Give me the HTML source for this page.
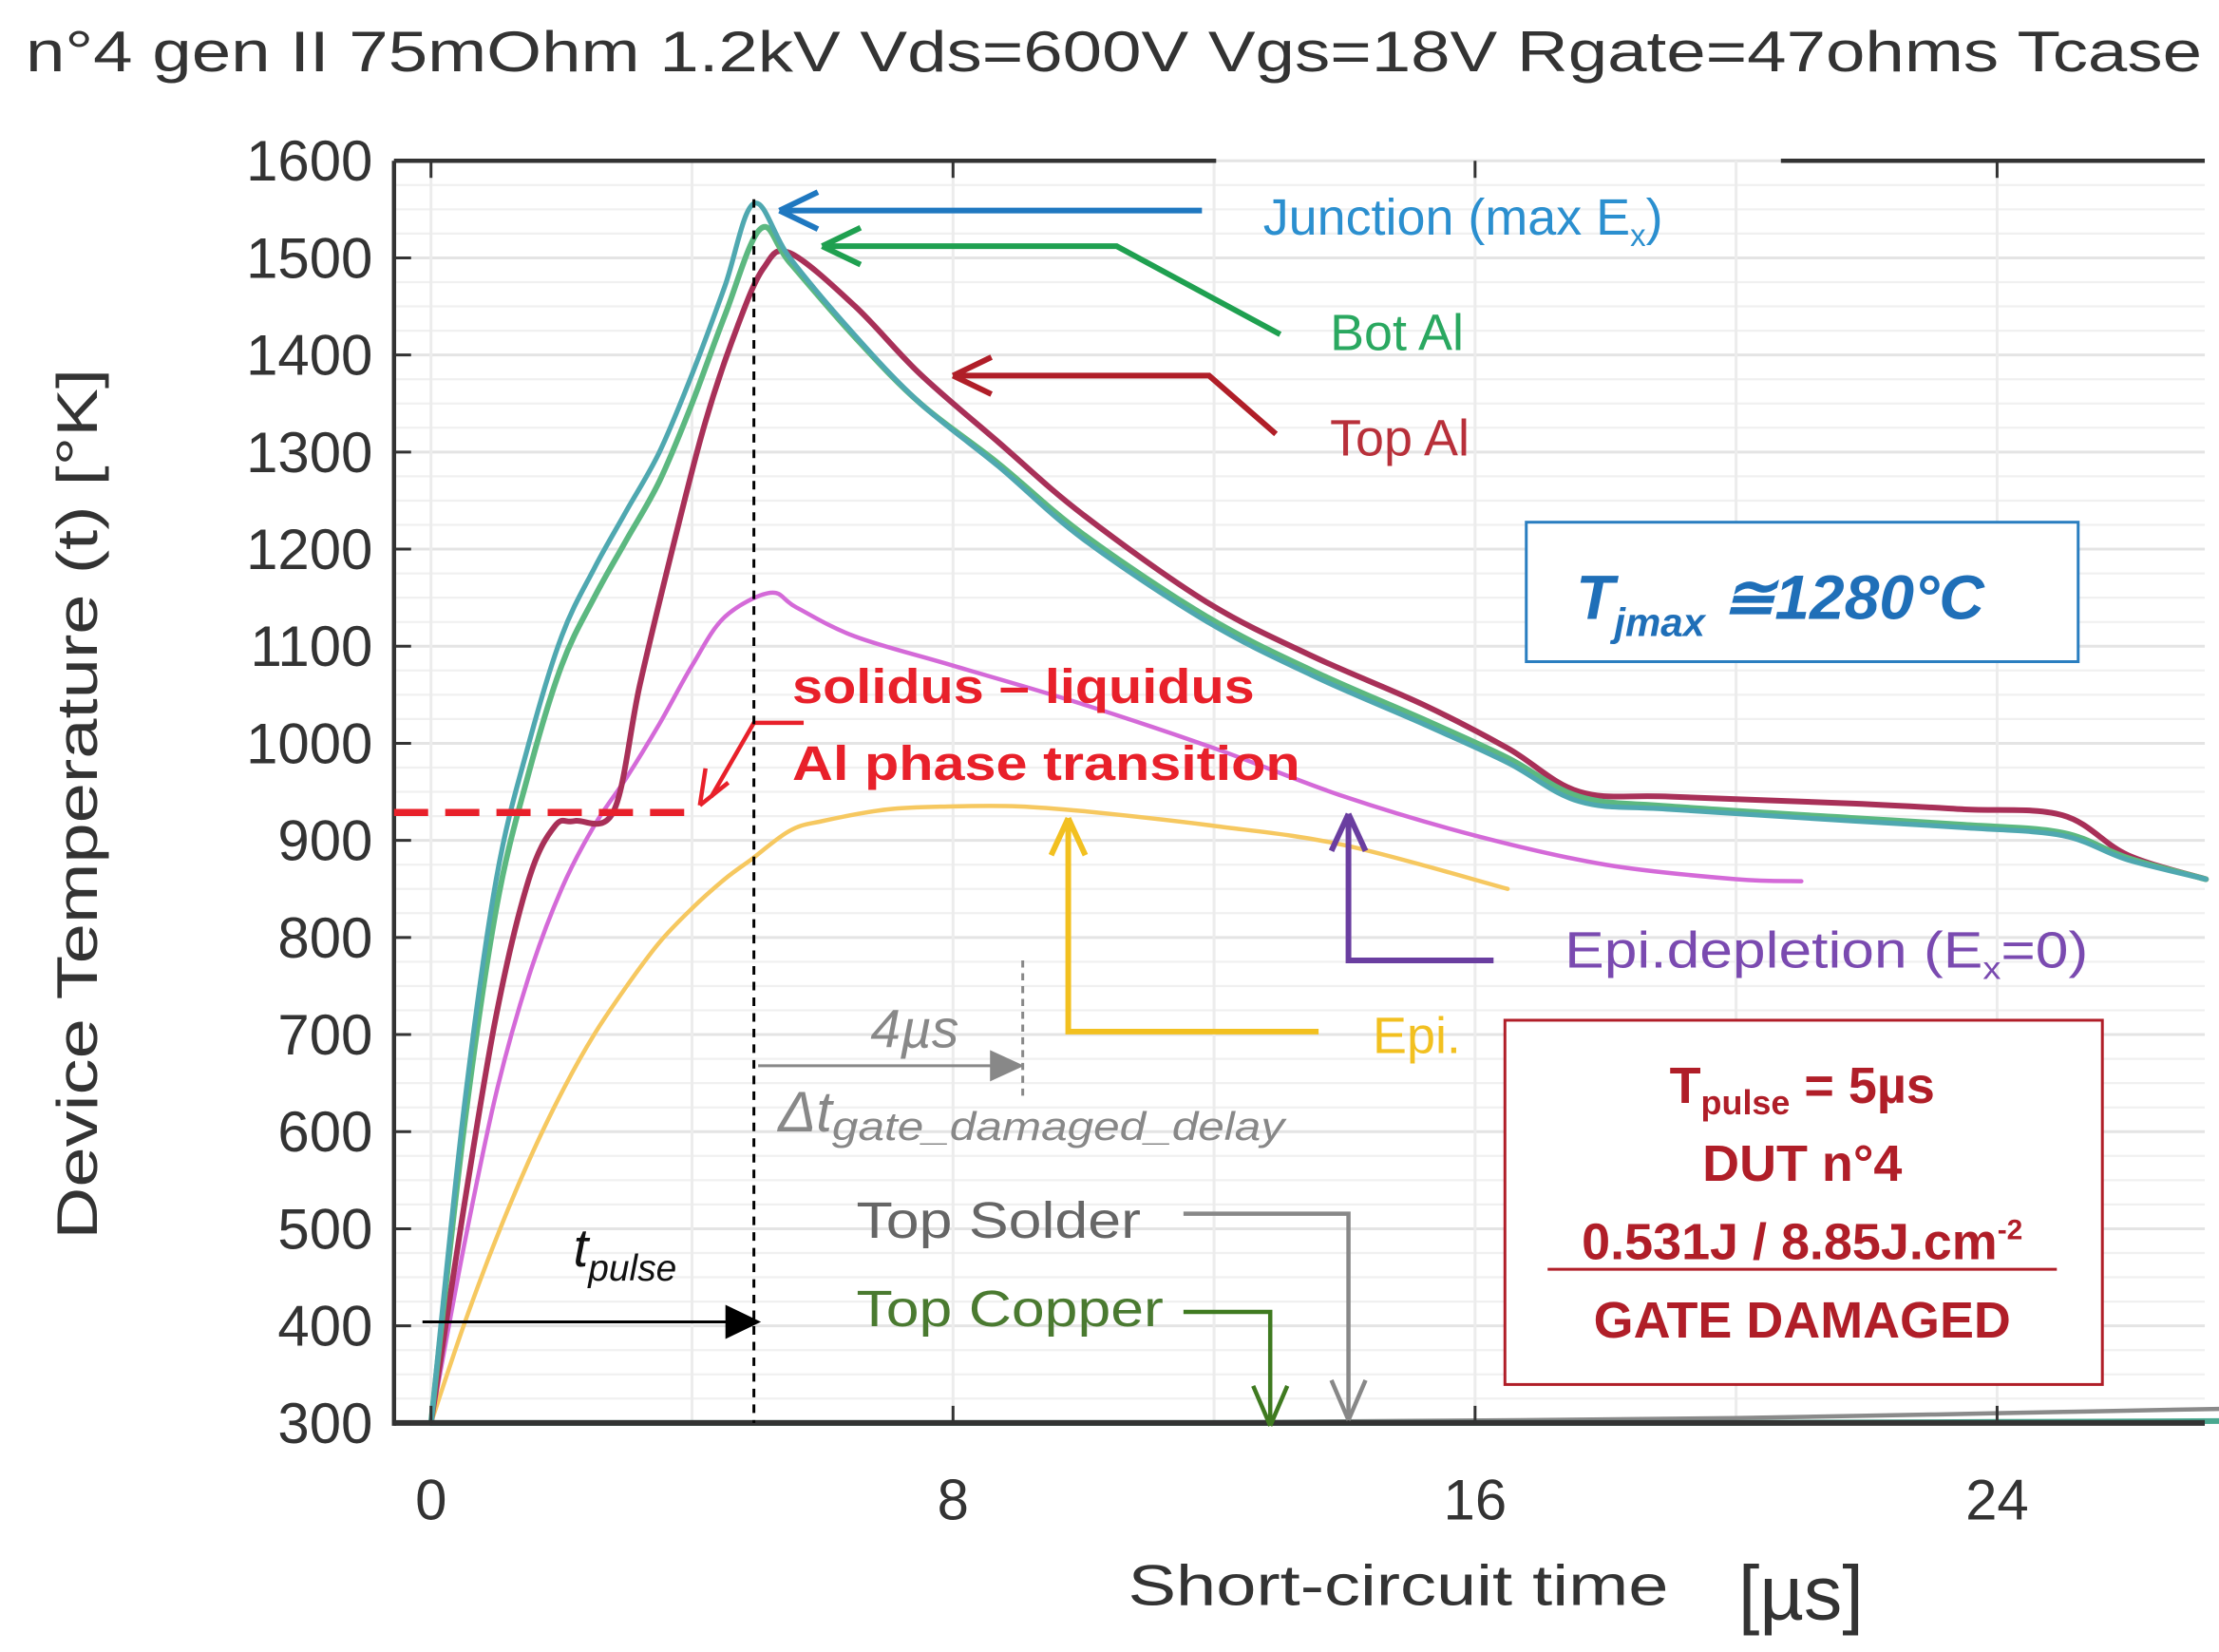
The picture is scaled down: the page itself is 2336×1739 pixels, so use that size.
<!DOCTYPE html>
<html><head><meta charset="utf-8"><style>
html,body{margin:0;padding:0;background:#fff;}
svg{display:block;}
text{font-family:"Liberation Sans",sans-serif;}
</style></head><body>
<svg id="chart" width="2336" height="1739" viewBox="0 0 1560 1161" preserveAspectRatio="none" xmlns="http://www.w3.org/2000/svg">
<rect width="1560" height="1161" fill="#fff"/>
<text x="18" y="50" font-size="40" fill="#333" textLength="1530" lengthAdjust="spacingAndGlyphs">n°4 gen II 75mOhm 1.2kV Vds=600V Vgs=18V Rgate=47ohms Tcase</text>
<g id="grid"></g>
<g id="series"></g>
<g id="axes"></g>
<g font-size="36">
  <line x1="277" y1="571" x2="490" y2="571" stroke="#e8202a" stroke-width="5" stroke-dasharray="24,12"/>
  <path d="M565 508 L530 508 L500 560" fill="none" stroke="#e8202a" stroke-width="3"/>
  <path d="M492 566 L496 540 M492 566 L512 550" stroke="#e8202a" stroke-width="3"/>
  <text x="557" y="494" fill="#e8202a" font-weight="bold" font-size="34" textLength="325" lengthAdjust="spacingAndGlyphs">solidus – liquidus</text>
  <text x="557" y="548" fill="#e8202a" font-weight="bold" font-size="34" textLength="357" lengthAdjust="spacingAndGlyphs">Al phase transition</text>
  <line x1="530" y1="140" x2="530" y2="1000" stroke="#000" stroke-width="2" stroke-dasharray="6,5"/>
  <path d="M548 148 L845 148" stroke="#1f78c0" stroke-width="4"/>
  <path d="M548 148 L575 135 M548 148 L575 161" stroke="#1f78c0" stroke-width="4" fill="none"/>
  <text x="888" y="165" fill="#2b8fcf">Junction (max E<tspan font-size="22" dy="8">x</tspan><tspan dy="-8">)</tspan></text>
  <path d="M578 173 L785 173 L900 235" stroke="#1fa050" stroke-width="4" fill="none"/>
  <path d="M578 173 L605 160 M578 173 L605 186" stroke="#1fa050" stroke-width="4" fill="none"/>
  <text x="935" y="246" fill="#2aa860">Bot Al</text>
  <path d="M670 264 L850 264 L897 305" stroke="#b01e28" stroke-width="4" fill="none"/>
  <path d="M670 264 L697 251 M670 264 L697 277" stroke="#b01e28" stroke-width="4" fill="none"/>
  <text x="935" y="320" fill="#b8303a">Top Al</text>
  <rect x="1073" y="367" width="388" height="98" fill="#fff" stroke="#2a7ec0" stroke-width="2"/>
  <text x="1108" y="435" fill="#1f6fb8" font-weight="bold" font-style="italic" font-size="44">T<tspan font-size="28" dy="12">jmax</tspan><tspan dy="-12"> ≅1280°C</tspan></text>
  <path d="M948 572 L948 675 L1050 675" stroke="#6a3ea0" stroke-width="4" fill="none"/>
  <path d="M948 572 L936 598 M948 572 L960 598" stroke="#6a3ea0" stroke-width="4" fill="none"/>
  <text x="1100" y="680" fill="#7a4ab0" textLength="368" lengthAdjust="spacingAndGlyphs">Epi.depletion (E<tspan font-size="22" dy="8">x</tspan><tspan dy="-8">=0)</tspan></text>
  <path d="M751 575 L751 725 L927 725" stroke="#f2c020" stroke-width="4" fill="none"/>
  <path d="M751 575 L739 601 M751 575 L763 601" stroke="#f2c020" stroke-width="4" fill="none"/>
  <text x="965" y="740" fill="#f2c020">Epi.</text>
  <line x1="719" y1="675" x2="719" y2="770" stroke="#888" stroke-width="2" stroke-dasharray="5,4"/>
  <path d="M533 749 L700 749" stroke="#888" stroke-width="2"/>
  <path d="M720 749 L696 738 L696 760 Z" fill="#888"/>
  <text x="612" y="736" fill="#888" font-style="italic" font-size="38">4µs</text>
  <text x="547" y="795" fill="#888" font-style="italic" font-size="40">Δt<tspan font-size="28" dy="6" textLength="318" lengthAdjust="spacingAndGlyphs">gate_damaged_delay</tspan></text>
  <text x="403" y="890" fill="#111" font-style="italic" font-size="38">t<tspan font-size="26" dy="10">pulse</tspan></text>
  <path d="M297 929 L515 929" stroke="#000" stroke-width="2"/>
  <path d="M535 929 L510 917 L510 941 Z" fill="#000"/>
  <text x="602" y="870" fill="#666" textLength="200" lengthAdjust="spacingAndGlyphs">Top Solder</text>
  <path d="M832 853 L948 853 L948 995" stroke="#888" stroke-width="3" fill="none"/>
  <path d="M948 998 L936 970 M948 998 L960 970" stroke="#888" stroke-width="3" fill="none"/>
  <text x="602" y="932" fill="#4a7a30" textLength="216" lengthAdjust="spacingAndGlyphs">Top Copper</text>
  <path d="M832 922 L893 922 L893 1000" stroke="#3f7a20" stroke-width="3" fill="none"/>
  <path d="M893 1002 L881 974 M893 1002 L905 974" stroke="#3f7a20" stroke-width="3" fill="none"/>
  <rect x="1058" y="717" width="420" height="256" fill="#fff" stroke="#b01e28" stroke-width="2"/>
  <g fill="#b01e28" font-weight="bold" font-size="36" text-anchor="middle">
    <text x="1267" y="775">T<tspan font-size="24" dy="8">pulse</tspan><tspan dy="-8"> = 5µs</tspan></text>
    <text x="1267" y="830">DUT n°4</text>
    <text x="1267" y="885">0.531J / 8.85J.cm<tspan font-size="20" dy="-14">-2</tspan></text>
    <text x="1267" y="940">GATE DAMAGED</text>
  </g>
  <line x1="1088" y1="892" x2="1446" y2="892" stroke="#b01e28" stroke-width="2"/>
</g>
<text x="793" y="1128" font-size="40" fill="#333" textLength="380" lengthAdjust="spacingAndGlyphs">Short-circuit time</text>
<text x="1222" y="1138" font-size="54" fill="#333">[µs]</text>
<text transform="translate(68,565) rotate(-90)" text-anchor="middle" font-size="40" fill="#333" textLength="612" lengthAdjust="spacingAndGlyphs">Device Temperature (t) [°K]</text>
</svg>
<script>
const xTicks=[0,8,16,24];
const yTicks=[300,400,500,600,700,800,900,1000,1100,1200,1300,1400,1500,1600];
const junctionT=[0,0.5,1,1.5,2,2.5,3,3.5,4,4.5,4.95,5.5,6.5,7.5,8.7,10,11.9,13.5,15.2,16.5,17.6,19,21.8,23.5,25,26,27.2];
const junctionV=[300,620,860,1000,1110,1180,1240,1300,1380,1470,1556,1500,1420,1350,1285,1210,1125,1070,1020,980,940,932,920,913,905,880,860];
const botAlT=[0,0.5,1,1.5,2,2.5,3,3.5,4,4.5,5.05,5.5,6.5,7.5,8.7,10,11.9,13.5,15.2,16.5,17.6,19,21.8,23.5,25,26,27.2];
const botAlV=[300,600,830,970,1080,1150,1210,1270,1350,1440,1530,1495,1418,1350,1288,1215,1130,1075,1025,985,945,935,923,916,908,882,860];
const topAlT=[0,0.5,1,1.5,1.9,2.2,2.8,3.2,3.7,4.2,4.7,5.1,5.5,6.5,7.5,8.7,10,11.9,13.5,15.2,16.5,17.6,19,21.8,23.5,25,26,27.2];
const topAlV=[300,520,720,860,915,920,930,1060,1200,1330,1430,1490,1505,1450,1380,1310,1235,1145,1090,1040,995,950,945,938,932,926,885,860];
const epiDepT=[0,0.5,1,1.5,2,2.5,3,3.5,4,4.5,5.2,5.6,6.5,8,10,12,14,16,18,20,21];
const epiDepV=[300,480,640,760,850,915,965,1020,1080,1130,1155,1140,1110,1080,1040,995,945,905,875,860,858];
const epiT=[0,0.5,1,1.5,2,2.5,3,3.5,4,4.5,4.9,5.5,6,7,8,9,10,12,14,16.5];
const epiV=[300,400,490,570,640,700,750,795,830,860,880,910,920,932,935,935,930,915,895,850];
const solderT=[0,5,10,15,20,24,27.8];
const solderV=[300,300,300,302,305,310,315];
const copperT=[0,5,10,15,20,24,27.8];
const copperV=[300,300,300,300,300,301,302];
const NS='http://www.w3.org/2000/svg';
const X0=277,X1=1550,Y0=113,Y1=1000;
const xS=t=>303+t*(670-303)/8;
const yS=v=>1000-(v-300)*(1000-113)/1300;
function mk(tag,attrs,parent){const e=document.createElementNS(NS,tag);for(const k in attrs)e.setAttribute(k,attrs[k]);parent.appendChild(e);return e;}
const grid=document.getElementById('grid'),axes=document.getElementById('axes'),series=document.getElementById('series');
for(let v=300;v<=1600;v+=25){const l=mk('line',{x1:X0,x2:X1,y1:yS(v),y2:yS(v),stroke:v%100===0?'#e4e4e4':'#f0f0f0','stroke-width':v%100===0?2:1.5},grid);

}
for(let t=0;t<=27;t+=4){const l=mk('line',{x1:xS(t),x2:xS(t),y1:Y0,y2:Y1,stroke:'#ececec','stroke-width':2},grid);

}
function smoothPath(p){let d='M'+p[0][0].toFixed(1)+','+p[0][1].toFixed(1);
for(let i=0;i<p.length-1;i++){const p0=p[Math.max(0,i-1)],p1=p[i],p2=p[i+1],p3=p[Math.min(p.length-1,i+2)];
const c1x=p1[0]+(p2[0]-p0[0])/6,c1y=p1[1]+(p2[1]-p0[1])/6,c2x=p2[0]-(p3[0]-p1[0])/6,c2y=p2[1]-(p3[1]-p1[1])/6;
d+=' C'+c1x.toFixed(1)+','+c1y.toFixed(1)+' '+c2x.toFixed(1)+','+c2y.toFixed(1)+' '+p2[0].toFixed(1)+','+p2[1].toFixed(1);}
return d;}
function line(ts,vs,color,w,name){const pts=ts.map((t,i)=>[xS(t),yS(vs[i])]);
const p=mk('path',{d:smoothPath(pts),fill:'none',stroke:color,'stroke-width':w,'stroke-linejoin':'round','stroke-linecap':'round'},series);

}
line(epiT,epiV,'#f6c860',3,'epi-line');
line(epiDepT,epiDepV,'#d46ad8',3,'epi-depletion-line');
line(topAlT,topAlV,'#a83058',4,'top-al-line');
line(botAlT,botAlV,'#5cb880',4,'bot-al-line');
line(junctionT,junctionV,'#4fa8b0',3.5,'junction-line');
line(solderT,solderV,'#8a8a8a',3,'top-solder-line');
line(copperT,copperV,'#4aa890',4,'top-copper-line');
let a=mk('line',{x1:X0,x2:X0,y1:Y0,y2:Y1+2,stroke:'#333','stroke-width':3},axes);


a=mk('line',{x1:X0,x2:X1,y1:Y1,y2:Y1,stroke:'#333','stroke-width':4},axes);


a=mk('line',{x1:X0,x2:855,y1:Y0,y2:Y0,stroke:'#333','stroke-width':3},axes);


a=mk('line',{x1:1252,x2:X1,y1:Y0,y2:Y0,stroke:'#333','stroke-width':3},axes);


yTicks.forEach(v=>{const y=yS(v);
const t=mk('line',{x1:X0,x2:X0+12,y1:y,y2:y,stroke:'#333','stroke-width':2},axes);


const tx=mk('text',{x:262,y:y+14,'text-anchor':'end','font-size':40,fill:'#333'},axes);
tx.textContent=v;

});
xTicks.forEach(v=>{const x=xS(v);
const t=mk('line',{x1:x,x2:x,y1:Y1,y2:Y1-12,stroke:'#333','stroke-width':2},axes);


const t2=mk('line',{x1:x,x2:x,y1:Y0,y2:Y0+12,stroke:'#333','stroke-width':2},axes);


const tx=mk('text',{x:x,y:1068,'text-anchor':'middle','font-size':40,fill:'#333'},axes);
tx.textContent=v;

});
</script>
</body></html>
